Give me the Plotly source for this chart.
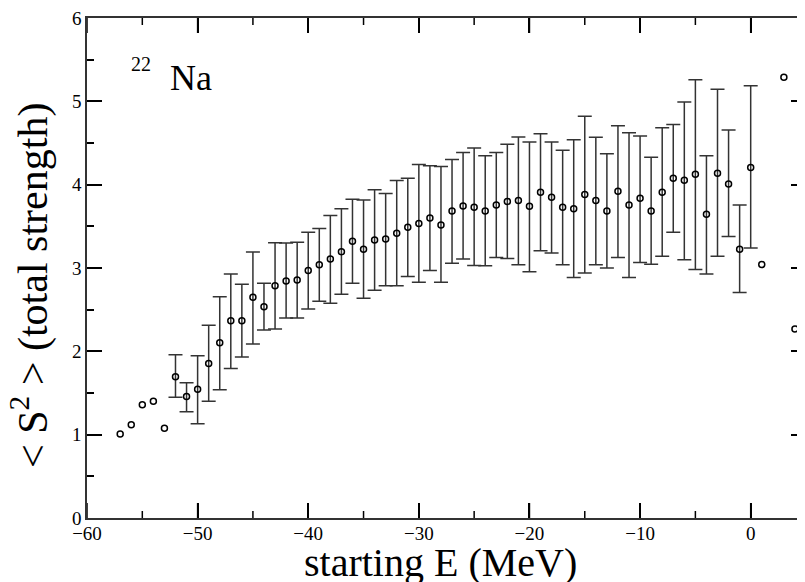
import numpy as np
import plotly.graph_objects as go

# Points without error bars
x_plain = [-57, -56, -55, -54, -53, 1, 3, 4]
y_plain = [1.008, 1.12, 1.358, 1.40, 1.076, 3.042, 5.289, 2.269]

# Points with error bars
x_err = list(range(-52, 1))
y_err = [1.694, 1.457, 1.544, 1.853, 2.102, 2.368, 2.368, 2.649, 2.535, 2.788,
         2.844, 2.856, 2.970, 3.038, 3.109, 3.196, 3.320, 3.225, 3.335, 3.347,
         3.418, 3.490, 3.534, 3.601, 3.517, 3.684, 3.743, 3.728, 3.684, 3.755,
         3.799, 3.811, 3.740, 3.910, 3.850, 3.728, 3.712, 3.882, 3.811, 3.684,
         3.922, 3.755, 3.838, 3.684, 3.910, 4.076, 4.052, 4.124, 3.644, 4.136,
         4.009, 3.225, 4.207]
y_upper = [1.960, 1.623, 1.948, 2.313, 2.654, 2.927, 2.804, 3.193, 2.816, 3.303,
           3.300, 3.308, 3.430, 3.474, 3.629, 3.712, 3.826, 3.815, 3.938, 3.894,
           4.049, 4.076, 4.243, 4.227, 4.219, 4.302, 4.385, 4.441, 4.346, 4.385,
           4.485, 4.572, 4.512, 4.611, 4.512, 4.414, 4.540, 4.822, 4.568, 4.370,
           4.707, 4.623, 4.584, 4.330, 4.683, 4.723, 4.992, 5.258, 4.346, 5.146,
           4.655, 3.755, 5.187]
y_lower = [1.448, 1.275, 1.132, 1.401, 1.540, 1.793, 1.932, 2.087, 2.257, 2.269,
           2.400, 2.400, 2.507, 2.602, 2.578, 2.685, 2.816, 2.637, 2.732, 2.788,
           2.788, 2.899, 2.828, 2.970, 2.828, 3.058, 3.109, 3.030, 3.026, 3.125,
           3.113, 3.038, 2.955, 3.208, 3.181, 3.038, 2.887, 2.939, 3.038, 2.999,
           3.125, 2.887, 3.066, 3.046, 3.141, 3.430, 3.098, 2.982, 2.927, 3.141,
           3.379, 2.705, 3.240]

# x-axis tick positions
x_major_ticks = [-60, -50, -40, -30, -20, -10, 0]
x_minor_ticks = [-55, -45, -35, -25, -15, -5]

err_plus = (np.array(y_upper) - np.array(y_err)).tolist()
err_minus = (np.array(y_err) - np.array(y_lower)).tolist()

serif = "Liberation Serif"

fig = go.Figure()
fig.add_trace(go.Scatter(
    x=x_err, y=y_err, mode="markers",
    marker=dict(symbol="circle-open", size=6, color="black", line=dict(width=1.5, color="black")),
    error_y=dict(type="data", symmetric=False, array=err_plus, arrayminus=err_minus,
                 color="#333333", thickness=1.5, width=7),
    showlegend=False,
))
fig.add_trace(go.Scatter(
    x=x_plain, y=y_plain, mode="markers",
    marker=dict(symbol="circle-open", size=6, color="black", line=dict(width=1.5, color="black")),
    showlegend=False,
))

common = dict(
    showgrid=False, zeroline=False,
    showline=True, linecolor="#333333", linewidth=1.5, mirror="ticks",
    ticklabeloverflow="allow",
    tickfont=dict(family=serif, size=19, color="black"),
)

fig.update_xaxes(
    range=[-60, 5], tickmode="array", tickvals=x_major_ticks,
    ticks="inside", ticklen=15, tickwidth=1.5, tickcolor="black",
    ticklabelstandoff=-3,
    **common,
)
fig.update_yaxes(
    range=[0, 6], tickmode="linear", tick0=0, dtick=1,
    ticks="inside", ticklen=15, tickwidth=1.5, tickcolor="black",
    minor=dict(ticks="inside", ticklen=7, tickwidth=1.5, tickcolor="black", dtick=0.5, tick0=0),
    **common,
)

# x tick marks (bottom and top), drawn in pixel lengths at the axis tick positions
for ticks_list, length in ((x_major_ticks, 15), (x_minor_ticks, 7)):
    for t in ticks_list:
        fig.add_shape(type="line", xref="x", yref="paper", ysizemode="pixel",
                      yanchor=0, x0=t, x1=t, y0=0, y1=length,
                      line=dict(color="black", width=1.5))
        fig.add_shape(type="line", xref="x", yref="paper", ysizemode="pixel",
                      yanchor=1, x0=t, x1=t, y0=0, y1=-length,
                      line=dict(color="black", width=1.5))

fig.add_annotation(text="starting E (MeV)", xref="paper", yref="paper",
                   x=0.491, y=-0.089, xanchor="center", yanchor="middle",
                   showarrow=False, font=dict(family=serif, size=40, color="black"))
fig.add_annotation(text="&lt; S<sup>2</sup> &gt; (total strength)", xref="paper", yref="paper",
                   x=-0.0786, y=0.465, xanchor="center", yanchor="middle", textangle=-90,
                   showarrow=False, font=dict(family=serif, size=42, color="black"))
fig.add_annotation(text="22", xref="x", yref="y", x=-55.09, y=5.452,
                   xanchor="center", yanchor="middle", showarrow=False,
                   font=dict(family=serif, size=20, color="black"))
fig.add_annotation(text="Na", xref="x", yref="y", x=-50.58, y=5.28,
                   xanchor="center", yanchor="middle", showarrow=False,
                   font=dict(family=serif, size=36, color="black"))

fig.update_layout(
    width=800, height=574,
    margin=dict(l=79, r=0, t=5, b=64),
    paper_bgcolor="white", plot_bgcolor="white",
    font=dict(family=serif, color="black"),
)

fig.write_html("out.html")
